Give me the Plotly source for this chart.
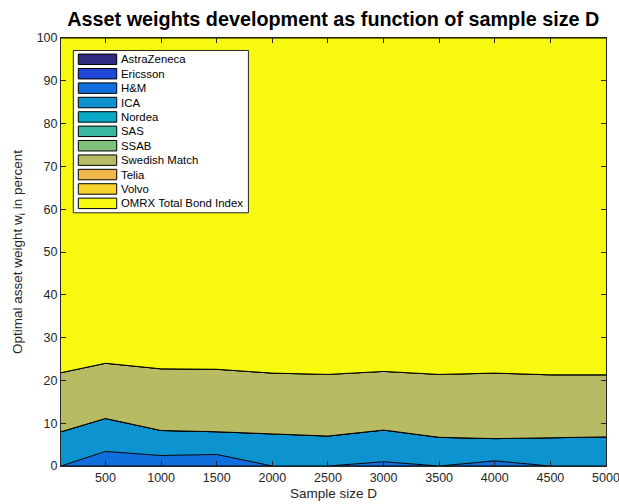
import plotly.graph_objects as go

# Sample sizes D
sample_size = [100, 500, 1000, 1500, 2000, 2500, 3000, 3500, 4000, 4500, 5000]

assets = ["AstraZeneca", "Ericsson", "H&M", "ICA", "Nordea", "SAS", "SSAB",
          "Swedish Match", "Telia", "Volvo", "OMRX Total Bond Index"]

# Optimal weights in percent for each asset
w_astrazeneca = [0, 0, 0, 0, 0, 0, 0, 0, 0, 0, 0]
w_ericsson = [0, 0, 0, 0, 0, 0, 0, 0, 0, 0, 0]
w_hm = [0, 3.4, 2.45, 2.7, 0, 0, 1.0, 0, 1.2, 0, 0]
w_ica = [8.0, 7.7, 5.85, 5.3, 7.5, 7.0, 7.4, 6.7, 5.2, 6.6, 6.8]
w_nordea = [0, 0, 0, 0, 0, 0, 0, 0, 0, 0, 0]
w_sas = [0, 0, 0, 0, 0, 0, 0, 0, 0, 0, 0]
w_ssab = [0, 0, 0, 0, 0, 0, 0, 0, 0, 0, 0]
w_swedish_match = [13.8, 12.9, 14.4, 14.6, 14.2, 14.4, 13.7, 14.7, 15.3, 14.7, 14.5]
w_telia = [0, 0, 0, 0, 0, 0, 0, 0, 0, 0, 0]
w_volvo = [0, 0, 0, 0, 0, 0, 0, 0, 0, 0, 0]
w_omrx = [78.2, 76.0, 77.3, 77.4, 78.3, 78.6, 77.9, 78.6, 78.3, 78.7, 78.7]

weights = [w_astrazeneca, w_ericsson, w_hm, w_ica, w_nordea, w_sas, w_ssab,
           w_swedish_match, w_telia, w_volvo, w_omrx]

colors = ["#2f2a80", "#1f48d6", "#0f6fde", "#0c93d0", "#08a8c6", "#37b89f",
          "#7ec07b", "#b7bb64", "#f2b74b", "#f8d32d", "#f7f90e"]

FONT = "Liberation Sans, Arial, Helvetica, sans-serif"
W, H = 619, 504
L, R, T, B = 61, 13.3, 37.5, 37.5
PW, PH = W - L - R, H - T - B

fig = go.Figure()
for name, w, c in zip(assets, weights, colors):
    fig.add_trace(go.Scatter(
        x=sample_size, y=w, name=name, mode="lines",
        stackgroup="one", fillcolor=c,
        line=dict(color="black", width=1),
        showlegend=False, hoverinfo="x+y+name",
    ))


def px_x(p):
    return (p - L) / PW


def px_y(p):
    return (H - B - p) / PH


# Legend box drawn in paper coordinates
shapes = [dict(type="rect", xref="paper", yref="paper",
               x0=px_x(73.3), x1=px_x(248.3), y0=px_y(212.7), y1=px_y(50),
               fillcolor="white", line=dict(color="#262626", width=1))]
annotations = []
for i, (name, c) in enumerate(zip(assets, colors)):
    top = 53.6 + 14.44 * i
    shapes.append(dict(type="rect", xref="paper", yref="paper",
                       x0=px_x(78.3), x1=px_x(116.7),
                       y0=px_y(top + 10.5), y1=px_y(top),
                       fillcolor=c, line=dict(color="black", width=1)))
    annotations.append(dict(xref="paper", yref="paper", x=px_x(119.0),
                            y=px_y(top + 5.3), text=name, showarrow=False,
                            xanchor="left", yanchor="middle",
                            font=dict(family=FONT, size=11.4, color="black")))

axis_common = dict(showline=True, linecolor="#262626", linewidth=1,
                   mirror="ticks", ticks="inside", ticklen=5,
                   tickcolor="#262626", showgrid=False, zeroline=False,
                   automargin=False, ticklabeloverflow="allow",
                   tickfont=dict(family=FONT, size=12.5, color="#262626"))

fig.update_layout(
    width=W, height=H,
    margin=dict(l=L, r=R, t=T, b=B),
    paper_bgcolor="white", plot_bgcolor="white",
    title=dict(text="<b>Asset weights development as function of sample size D</b>",
               x=(L + PW / 2) / W, xanchor="center", y=1 - 19 / H, yanchor="middle",
               font=dict(family=FONT, size=19.8, color="black")),
    xaxis=dict(range=[100, 5000], tickvals=[500, 1000, 1500, 2000, 2500, 3000,
                                            3500, 4000, 4500, 5000],
               title=dict(text="Sample size D", standoff=4,
                          font=dict(family=FONT, size=13.5, color="#262626")),
               **axis_common),
    yaxis=dict(range=[0, 100], tickvals=list(range(0, 101, 10)),
               title=dict(text="Optimal asset weight w<sub>i</sub> in percent", standoff=10,
                          font=dict(family=FONT, size=13.5, color="#262626")),
               **axis_common),
    shapes=shapes, annotations=annotations,
)

fig.write_html("out.html")
